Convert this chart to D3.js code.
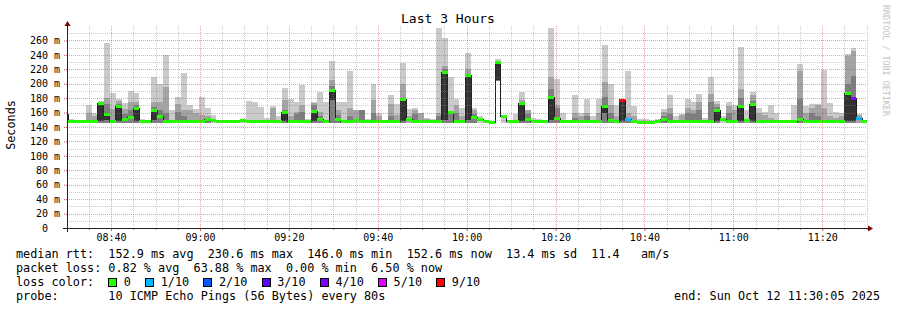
<!DOCTYPE html>
<html><head><meta charset="utf-8">
<script src="https://cdn.jsdelivr.net/npm/d3@7"></script>
<style>
body{margin:0;background:#fff;}
svg text{font-family:"DejaVu Sans Mono",monospace;white-space:pre;}
</style></head><body>
<svg id="c" width="897" height="310"></svg>
<script>
// ---------- data ----------
const title = "Last 3 Hours";
const yLabel = "Seconds";
const startTime = new Date(2025, 9, 12, 8, 30, 5);
const endTime = new Date(2025, 9, 12, 11, 30, 5);
const stepSeconds = 80;
const firstBoundary = 18; // seconds after start of first full step boundary
const yTicks = [0,20,40,60,80,100,120,140,160,180,200,220,240,260];

// per-step values (ms), sorted-ping smoke tiers
const hi = [195,151,148,147,170,160,176,256,187,179,
 173,190,187,151,149,210,200,240,163,181,
 215,170,165,181,167,156,147,147,147,147,
 149,176,174,168,153,169,155,194,179,174,
 198,151,174,188,174,232,174,174,218,164,
 164,151,200,160,147,184,172,229,165,166,
 160,153,151,277,264,210,179,167,242,166,
 155,147,149,234,157,147,158,189,164,152,
 151,149,277,206,160,147,184,160,179,155,
 179,253,200,170,177,217,169,151,151,150,
 151,165,184,155,158,179,175,186,153,209,
 176,155,174,170,251,163,189,166,161,170,
 160,149,149,170,227,169,172,172,219,173,
 161,160,241,250,158,150];
const upper2 = [165,146,146,146,160,155,175,180,165,176,
 165,174,175,146,146,175,174,196,150,172,
 163,163,160,156,155,146,146,146,146,146,
 146,150,150,148,146,166,146,178,155,161,
 170,146,173,161,150,205,163,150,166,163,
 164,146,178,155,146,172,157,200,155,163,
 159,151,146,160,225,162,170,155,220,163,
 146,146,146,232,146,146,146,178,163,146,
 146,146,209,170,150,146,160,155,160,146,
 160,203,170,155,177,160,155,146,146,146,
 150,161,167,146,157,167,164,174,146,186,
 172,146,169,164,192,150,185,160,156,152,
 146,146,146,148,218,160,166,170,167,155,
 153,155,238,245,156,146];
const upper3 = [160,146,146,146,150,146,174,172,146,172,
 158,164,170,146,146,168,163,160,146,161,
 155,150,146,150,150,146,146,146,146,146,
 146,146,146,146,146,150,146,164,146,158,
 161,146,170,155,146,197,156,146,155,146,
 164,146,160,146,146,155,146,180,146,158,
 146,146,146,155,220,158,160,146,212,158,
 146,146,146,231,146,146,146,174,158,146,
 146,146,193,166,146,146,152,146,155,146,
 146,181,160,146,177,150,146,146,146,146,
 146,155,158,146,146,160,158,164,146,174,
 168,146,160,150,180,146,176,146,146,146,
 146,146,146,146,179,146,160,155,146,146,
 146,146,200,211,146,146];
const median = [158,147.5,147,147,147,147,172,157,147,168.5,
 150.5,152.5,166,148,147,163,154,147,147,148,
 147,147,147,147,150,149,147,147,147,147,
 148.5,147.5,147,147,147,147,147,160,147,147,
 148,147,162,150,147,191,151,147,148,149,
 148,147.5,147,147,147,147,147,178,150,147,
 147,147.5,148,147,216,160,147,147,211,153.5,
 150,147,146,230,155,147,147,172,150,147.5,
 147.5,148,181,152,147,147,147,147,148,147,
 147,168,148.5,147,176.5,151,147,146,146,146.5,
 147.5,150,147,147,147,147,147,147.5,147,148,
 163,150,147,147,168,149,171,148,147,147,
 147,147,147,147.5,150,147,147,147,147,147,
 147,147,187,179,152,147];
const darkBottom = [150,147.5,147,147,147,147,149,150,147,149,
 150.5,152.5,149,148,147,150,154,147,147,148,
 147,147,147,147,150,149,147,147,147,147,
 148.5,147.5,147,147,147,147,147,149,147,147,
 148,147,149,150,147,178,151,147,148,149,
 148,147.5,147,147,147,147,147,149,150,147,
 147,147.5,148,147,150,160,147,147,150,153.5,
 150,147,146,205,155,147,147,149,150,147.5,
 147.5,148,150,152,147,147,147,147,148,147,
 147,160,148.5,147,149,151,147,146,146,146.5,
 147.5,150,147,147,147,147,147,147.5,147,148,
 149,150,147,147,149,149,149,148,147,147,
 147,147,147,147.5,150,147,147,147,147,147,
 147,147,149,149,152,147];
const low = [146,146,146,146,146,146,146,146,146,146,
 146,146,146,146,146,146,146,146,146,146,
 146,146,146,146,146,146,146,146,146,146,
 146,146,146,146,146,146,146,146,146,146,
 146,146,146,146,146,146,146,146,146,146,
 146,146,146,146,146,146,146,146,146,146,
 146,146,146,146,146,146,146,146,146,146,
 146,146,146,204,146,146,146,146,146,146,
 146,146,146,146,146,146,146,146,146,146,
 146,146,146,146,146,146,146,146,146,146,
 146,146,146,146,146,146,146,146,146,146,
 146,146,146,146,146,146,146,146,146,146,
 146,146,146,146,146,146,146,146,146,146,
 146,146,146,146,146,146];
const lossTenths = [0,0,0,0,0,0,0,0,0,0,
 0,0,0,0,0,0,0,0,0,0,
 0,0,0,0,0,0,0,0,0,0,
 0,0,0,0,0,0,0,0,0,0,
 0,0,0,0,0,0,0,0,0,0,
 0,0,0,0,0,0,0,0,0,0,
 0,0,0,0,0,0,0,0,0,0,
 0,0,0,0,0,0,0,0,0,0,
 0,0,0,0,0,0,0,0,0,0,
 0,0,0,0,9,1,0,0,0,0,
 0,0,0,0,0,0,0,0,0,0,
 0,0,0,0,0,0,0,0,0,0,
 0,0,0,0,0,0,0,0,0,0,
 0,0,0,4,1,0];
const lossLevels = [0,1,2,3,4,5,9];
const lossLabels = ["0","1/10","2/10","3/10","4/10","5/10","9/10"];
const lossColors = ["#26ff00","#00b8ff","#0059ff","#5e00ff","#7e00ff","#dd00ff","#ff0000"];

const legendLines = [
  "median rtt:  152.9 ms avg  230.6 ms max  146.0 ms min  152.6 ms now  13.4 ms sd  11.4   am/s",
  "packet loss: 0.82 % avg  63.88 % max  0.00 % min  6.50 % now",
  "loss color:",
  "probe:       10 ICMP Echo Pings (56 Bytes) every 80s"
];
const endText = "end: Sun Oct 12 11:30:05 2025";
const watermark = "RRDTOOL / TOBI OETIKER";

// ---------- layout ----------
const svg = d3.select("#c");
svg.append("rect").attr("width",897).attr("height",310).attr("fill","#fff");
const X0 = 67, X1 = 867, Y0 = 228, Ytop = 26;
const x = d3.scaleTime().domain([startTime, endTime]).range([X0, X1]);
const y = d3.scaleLinear().domain([0, 280]).range([Y0, Ytop]);

const steps = median.map((m, i) => {
  let s = new Date(+startTime + (firstBoundary + (i - 1) * stepSeconds) * 1000);
  let e = new Date(+s + stepSeconds * 1000);
  if (s < startTime) s = startTime;
  if (e > endTime) e = endTime;
  return {s, e, i};
});

const plot = svg.append("g");
const tiers = [[hi,"#cacaca"],[upper2,"#a4a4a4"],[upper3,"#7e7e7e"]];
tiers.forEach(([arr,col]) => {
  plot.append("g").selectAll("rect").data(steps.filter(d => arr[d.i] > low[d.i]))
    .join("rect")
    .attr("x", d => x(d.s)).attr("width", d => x(d.e) - x(d.s))
    .attr("y", d => y(arr[d.i])).attr("height", d => y(low[d.i]) - y(arr[d.i]))
    .attr("fill", col).attr("shape-rendering","crispEdges");
});
plot.append("g").selectAll("rect").data(steps.filter(d => median[d.i] - darkBottom[d.i] > 0.5))
  .join("rect")
  .attr("x", d => x(d.s)).attr("width", d => x(d.e) - x(d.s))
  .attr("y", d => y(median[d.i])).attr("height", d => y(darkBottom[d.i]) - y(median[d.i]))
  .attr("fill", "#323232").attr("shape-rendering","crispEdges");

// median step line
const pts = [];
steps.forEach(d => { pts.push([x(d.s), y(median[d.i])]); pts.push([x(d.e), y(median[d.i])]); });
plot.append("path").attr("d", d3.line()(pts)).attr("fill","none")
  .attr("stroke","#202020").attr("stroke-width",1).attr("shape-rendering","crispEdges");

// loss-colored median bands
plot.append("g").selectAll("rect").data(steps).join("rect")
  .attr("x", d => x(d.s)).attr("width", d => x(d.e) - x(d.s))
  .attr("y", d => y(median[d.i]) - 1.5).attr("height", 3)
  .attr("fill", d => lossColors[lossLevels.indexOf(lossTenths[d.i])])
  .attr("shape-rendering","crispEdges");

// ---------- grid ----------
const grid = svg.append("g").attr("shape-rendering","crispEdges");
const minuteTicks = d3.timeMinute.every(5).range(startTime, endTime);
minuteTicks.forEach(t => {
  const major = t.getMinutes() % 20 === 0;
  grid.append("line").attr("x1", Math.round(x(t))+0.5).attr("x2", Math.round(x(t))+0.5)
    .attr("y1", Ytop).attr("y2", Y0)
    .attr("stroke", major ? "rgba(232,60,60,0.5)" : "rgba(140,140,140,0.45)")
    .attr("stroke-dasharray","1,1");
});
d3.range(10, 280, 10).forEach(v => {
  const major = v % 20 === 0;
  grid.append("line").attr("x1", X0).attr("x2", X1)
    .attr("y1", Math.round(y(v))+0.5).attr("y2", Math.round(y(v))+0.5)
    .attr("stroke", major ? "rgba(232,60,60,0.5)" : "rgba(140,140,140,0.45)")
    .attr("stroke-dasharray","1,1");
});

// ---------- axes ----------
const majorTimes = d3.timeMinute.every(20).range(startTime, endTime);
const minorTimes = minuteTicks.filter(t => t.getMinutes() % 20 !== 0);
const xMinor = svg.append("g").attr("transform",`translate(0,${Y0})`)
  .call(d3.axisBottom(x).tickValues(minorTimes).tickSize(2).tickFormat(""));
xMinor.select(".domain").remove();
xMinor.selectAll("line").attr("stroke","#999");
const xAxis = svg.append("g").attr("transform",`translate(0,${Y0})`)
  .call(d3.axisBottom(x).tickValues(majorTimes).tickSize(3).tickPadding(3).tickFormat(d3.timeFormat("%H:%M")));
xAxis.select(".domain").remove();
xAxis.selectAll("line").attr("stroke","#e05050");
xAxis.selectAll("text").attr("font-size","10px").attr("fill","#000")
  .style("font-family","'DejaVu Sans Mono',monospace");

const yAxis = svg.append("g").attr("transform",`translate(${X0},0)`)
  .call(d3.axisLeft(y).tickValues(yTicks).tickSize(4).tickPadding(3)
    .tickFormat(d => d === 0 ? "0" : d + " m"));
yAxis.select(".domain").remove();
yAxis.selectAll("line").attr("stroke","#e05050").attr("stroke-dasharray","1,1");
yAxis.selectAll("text").attr("font-size","10px").attr("fill","#000")
  .style("font-family","'DejaVu Sans Mono',monospace");
yAxis.selectAll(".tick").filter(d => d === 0).select("text").attr("x", -19);

// axis lines + arrows
svg.append("line").attr("x1",63).attr("x2",868).attr("y1",Y0+0.5).attr("y2",Y0+0.5)
  .attr("stroke","#222").attr("shape-rendering","crispEdges");
svg.append("line").attr("x1",X0+0.5).attr("x2",X0+0.5).attr("y1",232).attr("y2",24)
  .attr("stroke","#222").attr("shape-rendering","crispEdges");
svg.append("path").attr("d",`M868,${Y0-2.5}L873,${Y0+0.5}L868,${Y0+3.5}Z`).attr("fill","#7f0000");
svg.append("path").attr("d",`M${X0-2.5},26L${X0+0.5},21L${X0+3.5},26Z`).attr("fill","#7f0000");

// ---------- texts ----------
svg.append("text").attr("x",448).attr("y",23.3).attr("text-anchor","middle")
  .attr("font-size","13px").text(title);
svg.append("text").attr("transform","translate(14.5,125) rotate(-90)").attr("text-anchor","middle")
  .attr("font-size","11.8px").text(yLabel);
svg.append("text").attr("transform","translate(883,5) rotate(90)")
  .attr("font-size","8.4px").attr("fill","#c4c4c4").text(watermark);

const baselines = [258, 272, 286, 299.5];
legendLines.forEach((t, li) => {
  svg.append("text").attr("x", 16).attr("y", baselines[li]).attr("font-size","11.8px").text(t);
});
let lx = 108.3;
lossLabels.forEach((lab, i) => {
  svg.append("rect").attr("x", lx + 0.5).attr("y", 278.5).attr("width", 8).attr("height", 8)
    .attr("fill", lossColors[i]).attr("stroke","#000").attr("stroke-width",1)
    .attr("shape-rendering","crispEdges");
  const t = svg.append("text").attr("x", lx + 15.5).attr("y", baselines[2])
    .attr("font-size","11.8px").text(lab);
  lx = lx + 15.5 + t.node().getComputedTextLength() + 14.3;
});
svg.append("text").attr("x",880).attr("y",baselines[3]).attr("text-anchor","end")
  .attr("font-size","11.8px").text(endText);
</script>
</body></html>
